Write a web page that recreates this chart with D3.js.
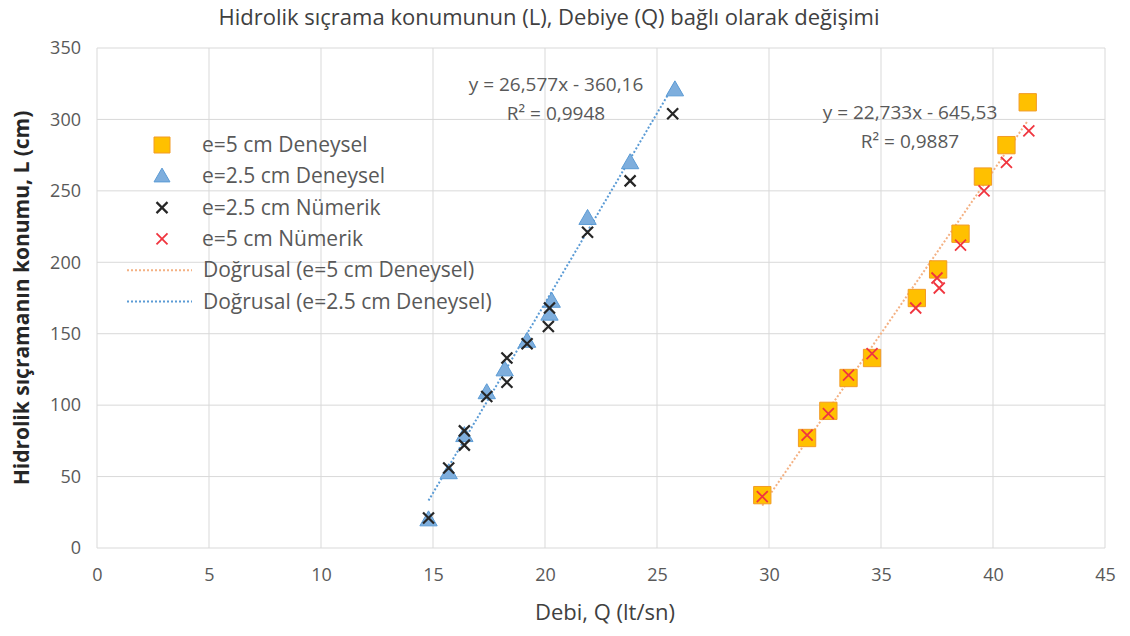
<!DOCTYPE html>
<html>
<head>
<meta charset="utf-8">
<script src="https://cdn.jsdelivr.net/npm/d3@7"></script>
<style>
  body { margin: 0; background: #fff; }
  svg { font-family: "Open Sans", "Noto Sans", sans-serif; }
</style>
</head>
<body>
<svg width="1130" height="636"></svg>
<script>
const width = 1130,
    height = 636;

// e=2.5 cm Deneysel (blue triangles)
const q25Dene = [14.8, 15.7, 16.4, 17.4, 18.2, 19.2, 20.2, 20.3, 21.9, 23.8, 25.8];
const l25Dene = [19, 52, 78, 108, 124, 144, 163, 172, 230, 269, 320];
// e=2.5 cm Nümerik (black x)
const q25Num = [14.8, 15.7, 16.4, 16.4, 17.4, 18.3, 18.3, 19.2, 20.15, 20.2, 21.9, 23.8, 25.7];
const l25Num = [21, 56, 82, 72, 106, 133, 116, 143, 155, 168, 221, 257, 304];
// e=5 cm Deneysel (orange squares)
const q5Dene = [29.7, 31.7, 32.65, 33.55, 34.6, 36.6, 37.55, 38.55, 39.55, 40.6, 41.55];
const l5Dene = [37, 77, 96, 119, 133, 175, 195, 220, 260, 282, 312];
// e=5 cm Nümerik (red x)
const q5Num = [29.7, 31.7, 32.65, 33.55, 34.6, 36.55, 37.5, 37.6, 38.55, 39.6, 40.6, 41.6];
const l5Num = [36, 79, 94, 121, 136, 168, 189, 182, 212, 250, 270, 292];

// trendlines (Excel linear fits)
const trendSlope = [22.733, 26.577];
const trendIntercept = [-645.53, -360.16];
const trendLabels = [["y = 22,733x - 645,53", "R\u00b2 = 0,9887"], ["y = 26,577x - 360,16", "R\u00b2 = 0,9948"]];

const xTicks = [0, 5, 10, 15, 20, 25, 30, 35, 40, 45];
const yTicks = [0, 50, 100, 150, 200, 250, 300, 350];

const legendNames = ["e=5 cm Deneysel", "e=2.5 cm Deneysel", "e=2.5 cm Nümerik", "e=5 cm Nümerik",
    "Doğrusal (e=5 cm Deneysel)", "Doğrusal (e=2.5 cm Deneysel)"];

const orange = "#FFC000", orangeEdge = "#F29B26",
    blue = "#7EAEDD", blueEdge = "#5B9BD5",
    black = "#262626", red = "#F0353F",
    orangeTrend = "#F4B183", blueTrend = "#5B9BD5",
    grid = "#D9D9D9", textGray = "#595959";

const svg = d3.select("svg");

const x = d3.scaleLinear().domain([0, 45]).range([97, 1105]);
const y = d3.scaleLinear().domain([0, 350]).range([548, 48]);

// gridlines
svg.append("g").selectAll("line")
    .data(yTicks).enter().append("line")
    .attr("x1", x(0)).attr("x2", x(45))
    .attr("y1", d => y(d)).attr("y2", d => y(d))
    .attr("stroke", grid).attr("stroke-width", 1);
svg.append("g").selectAll("line")
    .data(xTicks).enter().append("line")
    .attr("x1", d => x(d)).attr("x2", d => x(d))
    .attr("y1", y(0)).attr("y2", y(350))
    .attr("stroke", grid).attr("stroke-width", 1);

// axes (labels only)
const xAxis = svg.append("g")
    .attr("transform", "translate(0," + (y(0) + 18) + ")")
    .call(d3.axisBottom(x).tickValues(xTicks).tickSize(0).tickPadding(2));
const yAxis = svg.append("g")
    .attr("transform", "translate(" + (x(0) - 14) + ",0)")
    .call(d3.axisLeft(y).tickValues(yTicks).tickSize(0).tickPadding(2));
[xAxis, yAxis].forEach(a => {
    a.select(".domain").remove();
    a.selectAll("text").attr("fill", textGray).style("font-size", "18px")
        .style("font-family", "'Open Sans', sans-serif");
});

// title and axis titles
svg.append("text")
    .attr("x", 549).attr("y", 25)
    .attr("text-anchor", "middle")
    .attr("fill", "#404040")
    .style("font-size", "22px")
    .text("Hidrolik sıçrama konumunun (L), Debiye (Q) bağlı olarak değişimi");

svg.append("text")
    .attr("x", 605).attr("y", 620)
    .attr("text-anchor", "middle")
    .attr("fill", "#404040")
    .style("font-size", "22px")
    .text("Debi, Q (lt/sn)");

svg.append("text")
    .attr("transform", "translate(29," + y(175) + ") rotate(-90)")
    .attr("text-anchor", "middle")
    .attr("fill", "#262626")
    .style("font-size", "21px")
    .style("font-weight", "bold")
    .text("Hidrolik sıçramanın konumu, L (cm)");

// trendlines
const trendData = [
    { xs: q5Dene, color: orangeTrend },
    { xs: q25Dene, color: blueTrend }
];
const line = d3.line().x(d => x(d[0])).y(d => y(d[1]));
trendData.forEach((t, i) => {
    const ext = d3.extent(t.xs);
    const pts = ext.map(q => [q, trendSlope[i] * q + trendIntercept[i]]);
    svg.append("path")
        .attr("d", line(pts))
        .attr("fill", "none")
        .attr("stroke", t.color)
        .attr("stroke-width", 2)
        .attr("stroke-dasharray", "2,2");
});

// markers
const squarePath = d3.symbol().type(d3.symbolSquare).size(300)();
const triPath = d3.symbol().type(d3.symbolTriangle).size(130)();
const xPath = r => "M" + (-r) + "," + (-r) + "L" + r + "," + r + "M" + (-r) + "," + r + "L" + r + "," + (-r);

function drawMarks(qs, ls, path, fill, stroke, sw) {
    svg.append("g").selectAll("path")
        .data(d3.zip(qs, ls)).enter().append("path")
        .attr("transform", d => "translate(" + x(d[0]) + "," + y(d[1]) + ")")
        .attr("d", path)
        .attr("fill", fill)
        .attr("stroke", stroke)
        .attr("stroke-width", sw);
}

drawMarks(q5Dene, l5Dene, squarePath, orange, orangeEdge, 1);
drawMarks(q25Dene, l25Dene, triPath, blue, blueEdge, 1);
drawMarks(q25Num, l25Num, xPath(5.5), "none", black, 2.2);
drawMarks(q5Num, l5Num, xPath(5.5), "none", red, 1.8);

// trendline equations
const labelPos = [[910, 113], [556, 85]];
trendLabels.forEach((lbl, i) => {
    const g = svg.append("text")
        .attr("text-anchor", "middle")
        .attr("fill", textGray)
        .style("font-size", "19px");
    lbl.forEach((s, j) => {
        g.append("tspan")
            .attr("x", labelPos[i][0])
            .attr("y", labelPos[i][1] + 6 + j * 28.5)
            .text(s);
    });
});

// legend
const legend = svg.append("g").attr("transform", "translate(0,145)");
const rowH = 31.3;
legendNames.forEach((name, i) => {
    const gy = i * rowH;
    const g = legend.append("g").attr("transform", "translate(0," + gy + ")");
    if (i === 0) g.append("path").attr("transform", "translate(162,0)").attr("d", d3.symbol().type(d3.symbolSquare).size(256)())
        .attr("fill", orange).attr("stroke", orangeEdge);
    if (i === 1) g.append("path").attr("transform", "translate(162,1)").attr("d", d3.symbol().type(d3.symbolTriangle).size(110)())
        .attr("fill", blue).attr("stroke", blueEdge);
    if (i === 2) g.append("path").attr("transform", "translate(162,0)").attr("d", xPath(5.5))
        .attr("stroke", black).attr("stroke-width", 2.2);
    if (i === 3) g.append("path").attr("transform", "translate(162,0)").attr("d", xPath(5.5))
        .attr("stroke", red).attr("stroke-width", 1.8);
    if (i >= 4) g.append("line").attr("x1", 127).attr("x2", 192)
        .attr("stroke", i === 4 ? orangeTrend : blueTrend)
        .attr("stroke-width", 2).attr("stroke-dasharray", "2,2");
    g.append("text")
        .attr("x", i >= 4 ? 203 : 202)
        .attr("y", 7)
        .attr("fill", textGray)
        .style("font-size", "21px")
        .text(name);
});
</script>
</body>
</html>
